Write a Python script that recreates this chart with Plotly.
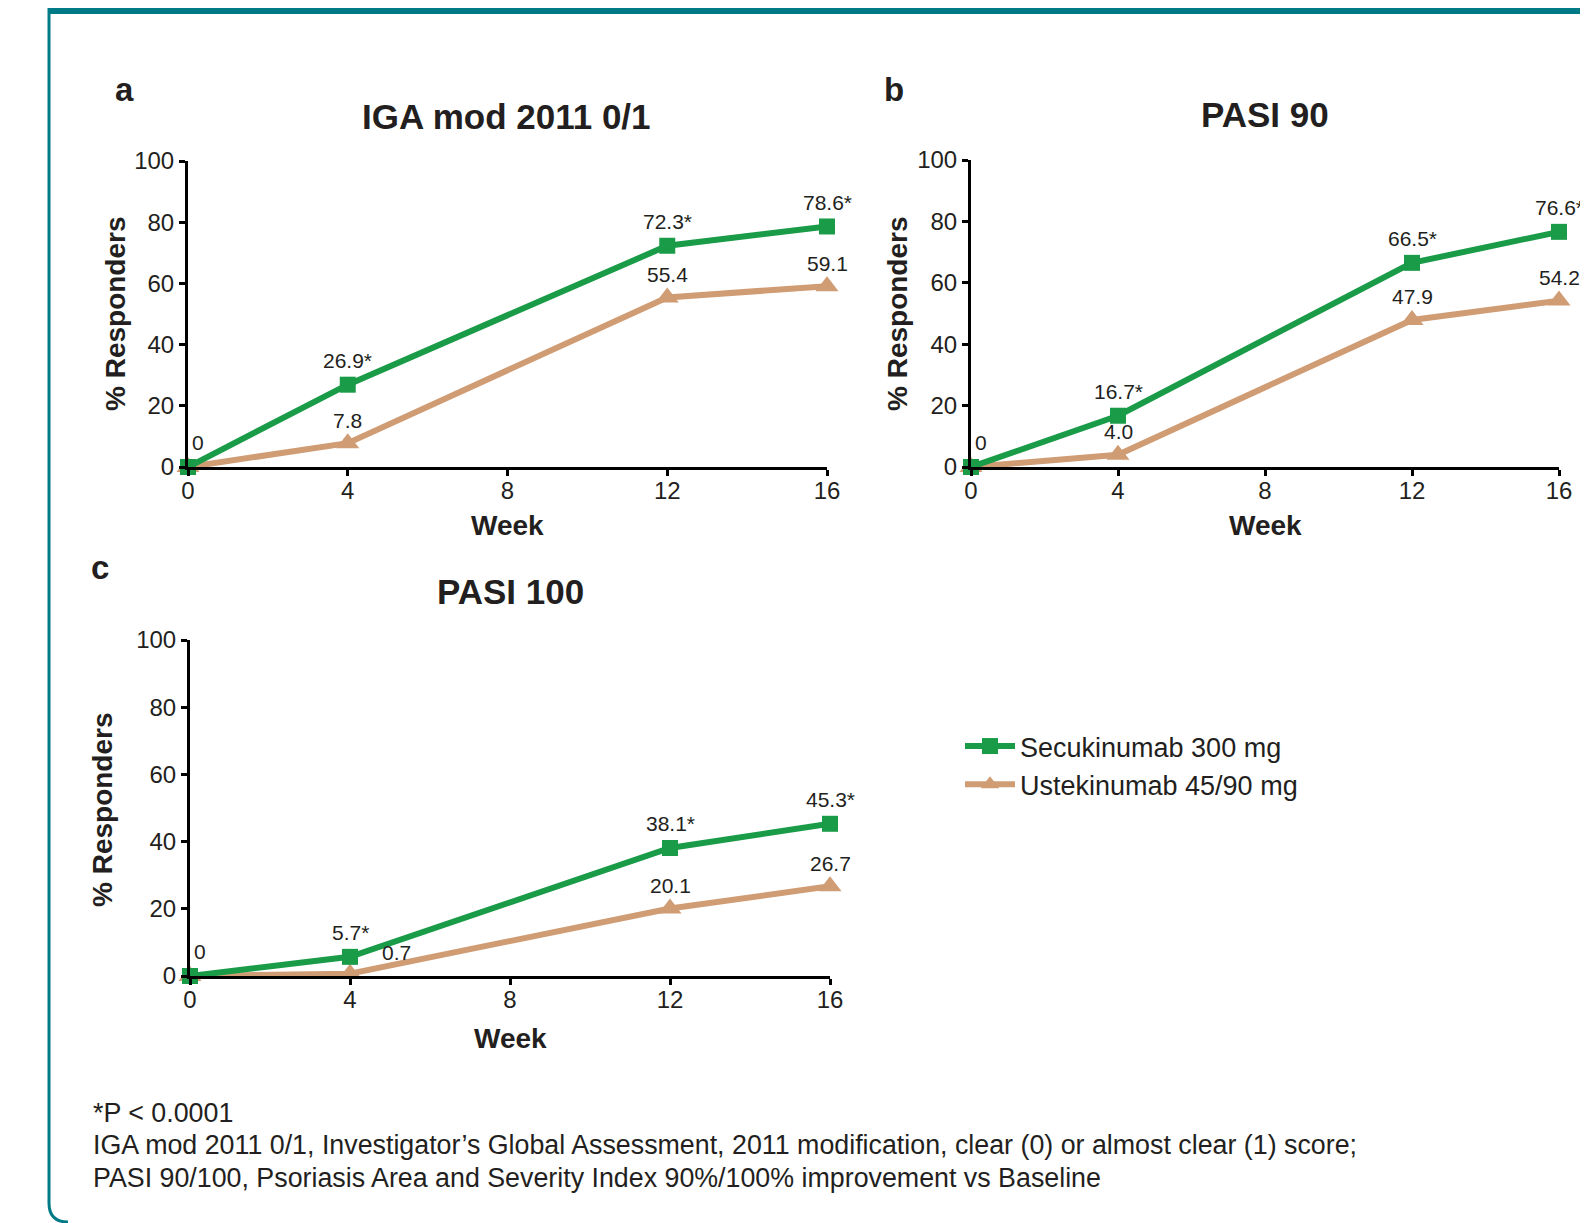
import plotly.graph_objects as go

W, H = 1588, 1223
OFF = 8  # default page margin of the html body

weeks = [0, 4, 12, 16]
xticks = [0, 4, 8, 12, 16]
yticks = [0, 20, 40, 60, 80, 100]

series_names = ["Secukinumab 300 mg", "Ustekinumab 45/90 mg"]

iga_secu = [0, 26.9, 72.3, 78.6]
iga_uste = [0, 7.8, 55.4, 59.1]
pasi90_secu = [0, 16.7, 66.5, 76.6]
pasi90_uste = [0, 4.0, 47.9, 54.2]
pasi100_secu = [0, 5.7, 38.1, 45.3]
pasi100_uste = [0, 0.7, 20.1, 26.7]

iga_secu_lbl = ["0", "26.9*", "72.3*", "78.6*"]
iga_uste_lbl = ["", "7.8", "55.4", "59.1"]
pasi90_secu_lbl = ["0", "16.7*", "66.5*", "76.6*"]
pasi90_uste_lbl = ["", "4.0", "47.9", "54.2"]
pasi100_secu_lbl = ["0", "5.7*", "38.1*", "45.3*"]
pasi100_uste_lbl = ["", "0.7", "20.1", "26.7"]

panel_titles = ["IGA mod 2011 0/1", "PASI 90", "PASI 100"]
panel_letters = ["a", "b", "c"]

GREEN = "#1A9B48"
TAN = "#D09C74"
TEXT = "#231F20"
TEAL = "#007A87"
FONT = "Liberation Sans, Arial, sans-serif"


def px_x(p):
    return (p - OFF) / W


def px_y(p):
    return 1 - (p - OFF) / H


# panel pixel boxes: (x0, x16, y0, y100)
boxes = [
    (188, 827, 467, 161),
    (971, 1559, 467, 160),
    (190, 830, 976, 640),
]

data = [
    (iga_secu, iga_uste, iga_secu_lbl, iga_uste_lbl),
    (pasi90_secu, pasi90_uste, pasi90_secu_lbl, pasi90_uste_lbl),
    (pasi100_secu, pasi100_uste, pasi100_secu_lbl, pasi100_uste_lbl),
]

fig = go.Figure()
annotations = []
layout_axes = {}

for i, ((x0, x1, y0, y1), (gs, us, gl, ul)) in enumerate(zip(boxes, data)):
    n = "" if i == 0 else str(i + 1)
    xa, ya = "x" + n, "y" + n
    layout_axes["xaxis" + n] = dict(
        domain=[px_x(x0), px_x(x1)], range=[0, 16], anchor=ya,
        tickvals=xticks, showline=True, linecolor="black", linewidth=3,
        ticks="outside", ticklen=6, tickwidth=3, tickcolor="black",
        ticklabelstandoff=-6,
        showgrid=False, zeroline=False, automargin=False,
        tickfont=dict(size=24, color=TEXT, family=FONT),
    )
    layout_axes["yaxis" + n] = dict(
        domain=[px_y(y0), px_y(y1)], range=[0, 100], anchor=xa,
        tickvals=yticks, showline=True, linecolor="black", linewidth=3,
        ticks="outside", ticklen=6, tickwidth=3, tickcolor="black",
        showgrid=False, zeroline=False, automargin=False,
        tickfont=dict(size=24, color=TEXT, family=FONT),
    )
    fig.add_trace(go.Scatter(
        x=weeks, y=us, xaxis=xa, yaxis=ya, mode="lines+markers",
        name=series_names[1], legendrank=2, showlegend=(i == 0),
        line=dict(color=TAN, width=6),
        marker=dict(symbol="triangle-up", size=20, color=TAN),
        cliponaxis=False,
    ))
    fig.add_trace(go.Scatter(
        x=weeks, y=gs, xaxis=xa, yaxis=ya, mode="lines+markers",
        name=series_names[0], legendrank=1, showlegend=(i == 0),
        line=dict(color=GREEN, width=6),
        marker=dict(symbol="square", size=16, color=GREEN),
        cliponaxis=False,
    ))
    # data labels
    for xv, yv, t in zip(weeks, gs, gl):
        if not t:
            continue
        xs, ys = (10, 25) if xv == 0 else (0, 24)
        annotations.append(dict(x=xv, y=yv, xref=xa, yref=ya, text=t,
                                showarrow=False, xshift=xs, yshift=ys,
                                xanchor="center", yanchor="middle",
                                font=dict(size=21, color=TEXT, family=FONT)))
    for xv, yv, t in zip(weeks, us, ul):
        if not t:
            continue
        xs, ys = (0, 23)
        if i == 2 and xv == 4:
            xs, ys = (46, 21)
        annotations.append(dict(x=xv, y=yv, xref=xa, yref=ya, text=t,
                                showarrow=False, xshift=xs, yshift=ys,
                                xanchor="center", yanchor="middle",
                                font=dict(size=21, color=TEXT, family=FONT)))

# titles, letters, axis titles
title_pos = [(506, 117), (1265, 114), (510, 591)]
letter_pos = [(124, 89), (894, 89), (100, 567)]
ytitle_pos = [(115, 314), (897, 314), (102, 810)]
xtitle_pos = [(507, 525), (1265, 525), (510, 1038)]


def paper_text(x, y, text, size, angle=0):
    annotations.append(dict(x=px_x(x), y=px_y(y), xref="paper", yref="paper",
                            text=text, showarrow=False, textangle=angle,
                            xanchor="center", yanchor="middle",
                            font=dict(size=size, color=TEXT, family=FONT)))


for i in range(3):
    paper_text(*title_pos[i], "<b>%s</b>" % panel_titles[i], 35)
    paper_text(*letter_pos[i], "<b>%s</b>" % panel_letters[i], 33)
    paper_text(*ytitle_pos[i], "<b>% Responders</b>", 28, -90)
    paper_text(*xtitle_pos[i], "<b>Week</b>", 28)

footnotes = [
    "*P < 0.0001",
    "IGA mod 2011 0/1, Investigator\u2019s Global Assessment, 2011 modification, clear (0) or almost clear (1) score;",
    "PASI 90/100, Psoriasis Area and Severity Index 90%/100% improvement vs Baseline",
]
foot_y = [1113, 1145, 1178]
for t, yy in zip(footnotes, foot_y):
    annotations.append(dict(x=px_x(91), y=px_y(yy), xref="paper", yref="paper",
                            text=t, showarrow=False, xanchor="left", yanchor="middle",
                            font=dict(size=26.8, color=TEXT, family=FONT)))

shapes = [
    dict(type="rect", xref="paper", yref="paper", x0=px_x(48), x1=px_x(W + OFF),
         y0=px_y(OFF + 6), y1=px_y(OFF), fillcolor=TEAL, line=dict(width=0), layer="below"),
    dict(type="path", xref="paper", yref="paper",
         path="M %f,%f L %f,%f Q %f,%f %f,%f" % (
             px_x(49), px_y(OFF), px_x(49), px_y(1203),
             px_x(49), px_y(1222), px_x(68), px_y(1222)),
         line=dict(color=TEAL, width=3), layer="below"),
]

fig.update_layout(
    template="none",
    width=W, height=H, autosize=False,
    margin=dict(l=0, r=0, t=0, b=0, pad=0, autoexpand=False),
    paper_bgcolor="white", plot_bgcolor="white",
    font=dict(family=FONT, color=TEXT),
    showlegend=True,
    legend=dict(x=px_x(960), y=px_y(722), xanchor="left", yanchor="top",
                bgcolor="rgba(0,0,0,0)", borderwidth=0,
                font=dict(size=27, color=TEXT, family=FONT),
                itemwidth=50, traceorder="normal"),
    annotations=annotations,
    shapes=shapes,
    **layout_axes,
)

fig.write_html("out.html")
